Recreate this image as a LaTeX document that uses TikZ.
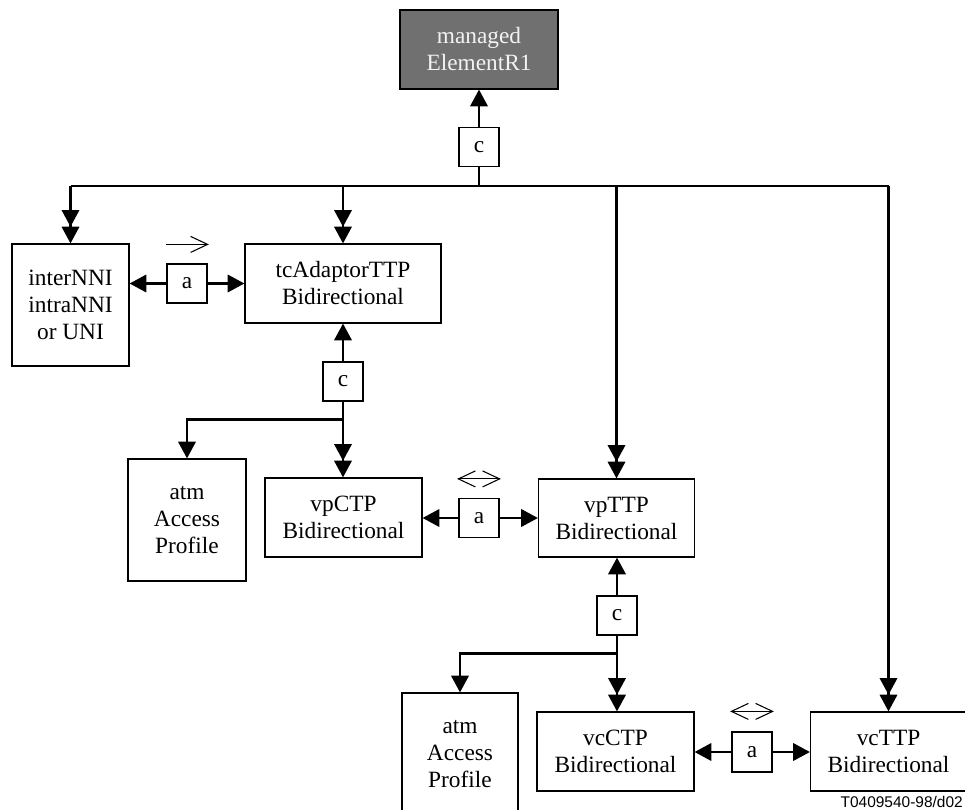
\documentclass[tikz,border=0pt]{standalone}
\usepackage{fontspec}
\setmainfont{Liberation Serif}
\newfontfamily\labelfont{Liberation Sans}
\usetikzlibrary{arrows.meta,calc}
\newdimen\pxu \pxu=0.75pt
\definecolor{mgray}{HTML}{707070}
\definecolor{mtext}{HTML}{F2F2F2}
\begin{document}
\begin{tikzpicture}[x=0.75pt,y=-0.75pt,
  every node/.style={font=\fontsize{17.5pt}{20.25pt}\selectfont},
  box/.style={draw,line width=0.9pt,inner sep=0pt,align=center},
  wide/.style={box,minimum width=157\pxu,minimum height=79\pxu},
  tall/.style={box,minimum width=117\pxu,minimum height=122\pxu},
  small/.style={box,minimum width=40\pxu,minimum height=39\pxu},
  conn/.style={line width=1.8pt},
  one/.style={conn,-{Triangle[length=12.5pt,width=13pt]}},
  two/.style={conn,-{Triangle[length=12.5pt,width=13pt,sep=0pt]Triangle[length=12.5pt,width=13pt,sep=0pt]}},
  sym/.style={line width=0.8pt}
]
\useasboundingbox (0,0) rectangle (965,810);

% nodes
\node[box,fill=mgray,text=mtext,minimum width=158\pxu,minimum height=79\pxu] (mer) at (479,49.5) {managed\\ElementR1};
\node[small] (c1) at (479,147) {c};
\node[tall] (nni) at (70.5,305) {interNNI\\intraNNI\\or UNI};
\node[small] (a1) at (187,283.5) {a};
\node[wide,minimum width=196\pxu] (tca) at (343,283.5) {tcAdaptorTTP\\Bidirectional};
\node[small] (c2) at (343,381.5) {c};
\node[tall,minimum width=118\pxu] (atm1) at (187,520) {atm\\Access\\Profile};
\node[wide] (vpc) at (343.5,517.5) {vpCTP\\Bidirectional};
\node[small] (a2) at (479,518) {a};
\node[wide,minimum width=156\pxu,minimum height=78\pxu] (vpt) at (616.5,518) {vpTTP\\Bidirectional};
\node[small] (c3) at (617,615.5) {c};
\node[tall,minimum width=116\pxu] (atm2) at (460,754) {atm\\Access\\Profile};
\node[wide] (vcc) at (615.5,751.5) {vcCTP\\Bidirectional};
\node[small,minimum height=40\pxu] (a3) at (752,752) {a};
\node[wide,minimum width=156\pxu] (vct) at (888.5,751.5) {vcTTP\\Bidirectional};
\node[font=\labelfont\fontsize{11.6pt}{13pt}\selectfont,anchor=base east,inner sep=0pt] (lbl) at (963,807) {T0409540-98/d02};

% top containment bus
\coordinate (busy) at (0,186);
\draw[one] (c1.north) -- (c1.north |- mer.south);
\draw[conn] (c1.south) -- (c1.south |- busy);
\draw[conn] (nni.north |- busy) -- (vct.north |- busy);
\draw[two] (nni.north |- busy) -- (nni.north);
\draw[two] (tca.north |- busy) -- (tca.north);
\draw[two] (vpt.north |- busy) -- (vpt.north);
\draw[two] (vct.north |- busy) -- (vct.north);

% a1
\draw[one] (a1.west) -- (nni.east |- a1.west);
\draw[one] (a1.east) -- (tca.west |- a1.east);
\draw[sym] ($(a1.north west)+(0,-19)$) -- ($(a1.north east)+(0,-19)$);
\draw[sym] ($(a1.north east)+(-17,-27)$) -- ($(a1.north east)+(0,-19)$) -- ($(a1.north east)+(-17,-11)$);

% c2
\coordinate (j2) at ($(c2.south)+(0,18)$);
\draw[one] (c2.north) -- (c2.north |- tca.south);
\draw[two] (c2.south) -- (c2.south |- vpc.north);
\draw[one] (j2) -| (atm1.north);

% a2
\draw[one] (a2.west) -- (vpc.east |- a2.west);
\draw[one] (a2.east) -- (vpt.west |- a2.east);
\draw[sym] ($(a2.north west)+(0,-19)$) -- ($(a2.north east)+(0,-19)$);
\draw[sym] ($(a2.north west)+(17,-27)$) -- ($(a2.north west)+(0,-19)$) -- ($(a2.north west)+(17,-11)$);
\draw[sym] ($(a2.north east)+(-17,-27)$) -- ($(a2.north east)+(0,-19)$) -- ($(a2.north east)+(-17,-11)$);

% c3
\coordinate (j3) at ($(c3.south)+(0,18)$);
\draw[one] (c3.north) -- (c3.north |- vpt.south);
\draw[two] (c3.south) -- (c3.south |- vcc.north);
\draw[one] (j3) -| (atm2.north);

% a3
\draw[one] (a3.west) -- (vcc.east |- a3.west);
\draw[one] (a3.east) -- (vct.west |- a3.east);
\draw[sym] ($(a3.north west)+(0,-20)$) -- ($(a3.north east)+(0,-20)$);
\draw[sym] ($(a3.north west)+(17,-28)$) -- ($(a3.north west)+(0,-20)$) -- ($(a3.north west)+(17,-12)$);
\draw[sym] ($(a3.north east)+(-17,-28)$) -- ($(a3.north east)+(0,-20)$) -- ($(a3.north east)+(-17,-12)$);
\end{tikzpicture}
\end{document}
